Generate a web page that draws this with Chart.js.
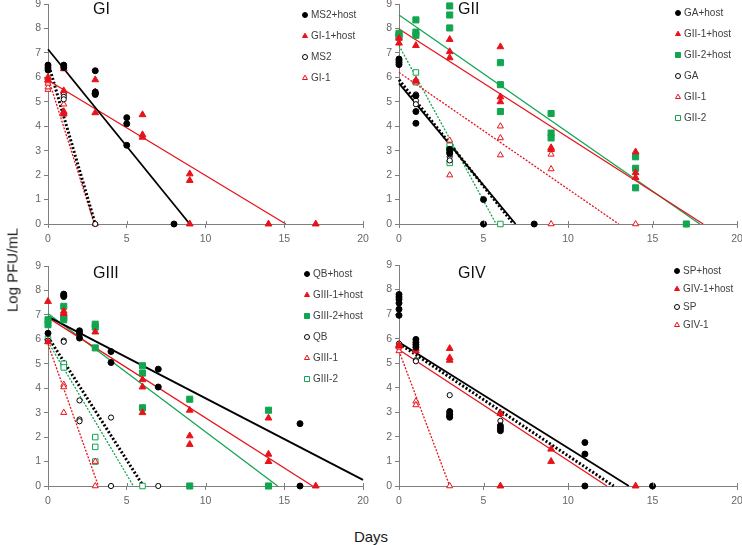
<!doctype html>
<html lang="en">
<head>
<meta charset="utf-8" />
<title>Log PFU/mL vs Days</title>
<script src="https://cdn.jsdelivr.net/npm/chart.js@4.4.1/dist/chart.umd.min.js"></script>
<style>
  body { margin: 0; background: #fff; width: 742px; height: 545px; position: relative; overflow: hidden;
         font-family: "Liberation Sans", Arial, sans-serif; }
  canvas { position: absolute; }
  .ylabel { position: absolute; left: 12px; top: 270px; transform: translate(-50%, -50%) rotate(-90deg);
            font-size: 15px; white-space: nowrap; color: #1a1a1a; }
  .xlabel { position: absolute; left: 371px; top: 536px; transform: translate(-50%, -50%);
            font-size: 15px; color: #1a1a1a; }
</style>
</head>
<body>
<canvas id="p1" width="380" height="260" style="left:0;top:-10px"></canvas>
<canvas id="p2" width="382" height="260" style="left:370px;top:-10px"></canvas>
<canvas id="p3" width="380" height="272" style="left:0;top:240px"></canvas>
<canvas id="p4" width="382" height="272" style="left:370px;top:240px"></canvas>
<div class="ylabel">Log PFU/mL</div>
<div class="xlabel">Days</div>
<script>
  // axis ticks
  const xTicks = [0, 5, 10, 15, 20];
  const yTicks = [0, 1, 2, 3, 4, 5, 6, 7, 8, 9];

  // ---- GI : [day, log PFU/mL] ----
  const ms2Host = [[0,6.3],[0,6.4],[0,6.5],[1,6.4],[1,6.5],[3,6.27],[3,5.4],[3,5.3],[3,5.35],[5,4.35],[5,4.1],[5,3.22],[8,0]];
  const gi1Host = [[0,6.0],[0,5.9],[1,6.35],[1,5.45],[1,4.6],[1,4.5],[3,5.9],[3,5.4],[3,4.55],[6,4.47],[6,3.65],[6,3.55],[9,2.05],[9,1.78],[9,0],[14,0],[17,0]];
  const ms2 = [[0,6.5],[0,6.35],[1,5.3],[1,5.2],[1,5.1],[3,0]];
  const gi1 = [[0,5.5],[0,5.6],[0,5.75],[0,5.85],[1,5.4],[1,4.9],[1,4.55],[3,0]];
  // fitted lines: [value at day 0, day where line reaches 0]
  const ms2HostFit = [7.15, 9.0];
  const gi1HostFit = [5.88, 15.1];
  const ms2Fit = [6.6, 3.0];
  const gi1Fit = [6.0, 2.95];

  // ---- GII ----
  const gaHost = [[0,6.75],[0,6.68],[0,6.6],[0,6.52],[1,5.25],[1,4.6],[1,4.12],[3,3.05],[3,2.9],[5,1.0],[5,0],[8,0]];
  const gii1Host = [[0,7.4],[0,7.6],[1,7.3],[1,5.85],[3,7.55],[3,7.05],[3,6.8],[6,7.25],[6,5.2],[6,5.0],[9,3.12],[9,3.05],[14,2.95],[14,2.1],[14,1.9]];
  const gii2Host = [[0,7.8],[0,7.7],[1,8.35],[1,7.85],[1,7.72],[3,8.92],[3,8.55],[3,8.02],[3,3.05],[6,6.6],[6,5.7],[6,4.6],[9,4.52],[9,3.72],[9,3.52],[14,2.75],[14,2.28],[14,1.48],[17,0]];
  const ga = [[0,6.6],[1,5.3],[1,5.05],[1,4.9],[3,2.75],[3,2.6],[3,2.85]];
  const gii1 = [[0,7.6],[1,5.9],[1,5.8],[3,3.42],[3,2.0],[6,4.0],[6,3.52],[6,2.82],[9,2.85],[9,2.25],[9,0],[14,0]];
  const gii2 = [[0,7.75],[0,7.65],[1,6.2],[1,5.8],[3,3.2],[3,2.5],[6,0]];
  const gaHostFit = [5.75, 6.9];
  const gii1HostFit = [7.98, 18.0];
  const gii2HostFit = [8.55, 17.8];
  const gaFit = [5.9, 6.78];
  const gii1Fit = [6.2, 13.0];
  const gii2Fit = [7.3, 5.75];

  // ---- GIII ----
  const qbHost = [[0,6.25],[1,7.85],[1,7.8],[1,7.75],[2,6.35],[2,6.25],[2,6.05],[4,5.5],[4,5.05],[7,4.78],[7,4.05],[16,2.55],[16,0]];
  const giii1Host = [[0,7.55],[0,5.9],[1,7.15],[1,7.05],[3,6.3],[6,4.35],[6,4.05],[6,3.0],[9,3.1],[9,2.05],[9,1.7],[14,2.78],[14,1.3],[14,1.0],[17,0]];
  const giii2Host = [[0,6.8],[0,6.6],[1,7.35],[1,6.9],[1,6.8],[3,6.62],[3,6.5],[3,5.65],[6,4.92],[6,4.62],[6,3.2],[9,3.55],[9,0],[14,3.1],[14,0]];
  const qb = [[0,5.95],[1,5.95],[1,5.9],[2,3.5],[2,2.72],[2,2.65],[4,2.8],[4,0],[7,0]];
  const giii1 = [[0,5.9],[1,4.15],[1,4.05],[1,3.0],[3,1.0],[3,0]];
  const giii2 = [[0,6.0],[1,5.0],[1,4.85],[3,2.0],[3,1.6],[3,1.0],[6,0]];
  const qbHostFit = [6.93, 20.75];
  const giii1HostFit = [6.89, 16.8];
  const giii2HostFit = [7.06, 14.58];
  const qbFit = [6.1, 6.05];
  const giii1Fit = [5.8, 3.2];
  const giii2Fit = [5.9, 5.42];

  // ---- GIV ----
  const spHost = [[0,7.8],[0,7.7],[0,7.6],[0,7.45],[0,7.2],[0,6.95],[1,5.97],[1,5.85],[1,5.75],[1,5.65],[3,3.02],[3,2.92],[3,2.85],[3,2.8],[6,2.45],[6,2.35],[6,2.25],[11,1.77],[11,1.3],[11,0],[15,0]];
  const giv1Host = [[0,5.75],[0,5.7],[1,5.6],[1,5.5],[3,5.6],[3,5.22],[3,5.12],[6,2.95],[6,0],[9,1.5],[9,1.0],[14,0]];
  const sp = [[0,5.8],[1,5.12],[1,5.08],[3,3.7],[3,3.05],[6,2.65],[6,2.95]];
  const giv1 = [[0,5.5],[0,5.65],[1,3.45],[1,3.3],[3,0]];
  const spHostFit = [5.85, 13.6];
  const giv1HostFit = [5.55, 12.3];
  const spFit = [5.8, 12.7];
  const giv1Fit = [5.5, 3.0];

  const BLACK = '#000000', RED = '#e8121b', GREEN = '#12a550';
  const FONT = '"Liberation Sans", Arial, sans-serif';
  const AXIS = '#7f7f7f';

  function fitLine(fit) {
    const xEnd = Math.min(fit[1], 20);
    return [{x: 0, y: fit[0]}, {x: xEnd, y: fit[0] * (1 - xEnd / fit[1])}];
  }

  function drawMarker(ctx, s, x, y, r) {
    ctx.beginPath();
    if (s.shape === 'circle') ctx.arc(x, y, r, 0, 2 * Math.PI);
    else if (s.shape === 'triangle') {
      ctx.moveTo(x, y - r * 1.15); ctx.lineTo(x + r, y + r * 0.6); ctx.lineTo(x - r, y + r * 0.6); ctx.closePath();
    } else ctx.rect(x - r, y - r, 2 * r, 2 * r);
    ctx.fillStyle = s.filled ? s.color : '#fff';
    ctx.fill();
    ctx.strokeStyle = s.color; ctx.lineWidth = 1; ctx.stroke();
  }

  const radius = {circle: 3.0, triangle: 3.9, rect: 4.3};

  // x axis ticks in the source cross the axis line, so draw the upper half by hand
  const crossTicks = {
    id: 'crossTicks',
    afterDraw(chart) {
      const xs = chart.scales.x, ctx = chart.ctx, bottom = chart.chartArea.bottom;
      ctx.save();
      ctx.strokeStyle = AXIS; ctx.lineWidth = 1;
      xTicks.forEach(v => {
        const px = Math.round(xs.getPixelForValue(v)) + 0.5;
        ctx.beginPath(); ctx.moveTo(px, bottom - 3); ctx.lineTo(px, bottom); ctx.stroke();
      });
      ctx.restore();
    }
  };

  function makePanel(id, p) {
    const datasets = [];
    p.series.forEach(s => {
      datasets.push({
        data: s.pts.map(d => ({x: d[0], y: d[1]})),
        pointStyle: s.shape,
        pointRadius: s.filled ? radius[s.shape] : radius[s.shape] - 0.4,
        pointBackgroundColor: s.filled ? s.color : '#fff',
        pointBorderColor: s.color,
        pointBorderWidth: 1,
        showLine: false,
        clip: false
      });
    });
    p.series.forEach(s => {
      const black = s.color === BLACK;
      datasets.push({
        data: fitLine(s.fit),
        showLine: true,
        pointRadius: 0,
        borderColor: s.color,
        borderWidth: s.filled ? (black ? 1.8 : 1.3) : (black ? 3 : 1.3),
        borderDash: s.filled ? [] : (black ? [2, 2] : [2, 1.5]),
        clip: false
      });
    });

    const decor = {
      id: 'decor',
      afterDraw(chart) {
        const ctx = chart.ctx;
        ctx.save();
        ctx.fillStyle = '#111';
        ctx.font = '16px ' + FONT;
        ctx.textBaseline = 'alphabetic';
        ctx.fillText(p.title, p.titleX, p.titleY);
        ctx.font = '10px ' + FONT;
        ctx.textBaseline = 'middle';
        p.series.forEach((s, i) => {
          const y = p.legY + i * p.legGap;
          drawMarker(ctx, s, p.legX, y, 2.5);
          ctx.fillStyle = '#404040';
          ctx.fillText(s.label, p.legX + 6, y + 0.5);
        });
        ctx.restore();
      }
    };

    const axisGrid = {drawOnChartArea: false, drawTicks: true, tickLength: 4, color: AXIS};
    const tickFont = {size: 10.5, family: FONT};

    new Chart(document.getElementById(id), {
      type: 'scatter',
      data: {datasets},
      options: {
        responsive: false,
        animation: false,
        events: [],
        layout: {padding: {top: p.top, right: p.right, left: 0, bottom: 0}},
        plugins: {legend: {display: false}, tooltip: {enabled: false}},
        scales: {
          x: {
            type: 'linear', min: 0, max: 20,
            afterBuildTicks: s => { s.ticks = xTicks.map(v => ({value: v})); },
            afterFit: s => { s.height = 26; },
            ticks: {color: '#666666', font: tickFont, padding: 5, maxRotation: 0},
            grid: axisGrid,
            border: {color: AXIS, width: 1}
          },
          y: {
            type: 'linear', min: 0, max: 9,
            afterBuildTicks: s => { s.ticks = yTicks.map(v => ({value: v})); },
            afterFit: s => { s.width = p.left; },
            ticks: {color: '#666666', font: tickFont, padding: 3},
            grid: axisGrid,
            border: {color: AXIS, width: 1}
          }
        }
      },
      plugins: [crossTicks, decor]
    });
  }

  // canvases are 10px wider than the panel so the "20" label has room;
  // right padding sets where x = 20 falls
  makePanel('p1', {
    title: 'GI', titleX: 93, titleY: 24, left: 48, right: 17, top: 14,
    legX: 305, legY: 25, legGap: 21,
    series: [
      {label: 'MS2+host', pts: ms2Host, fit: ms2HostFit, color: BLACK, shape: 'circle', filled: true},
      {label: 'GI-1+host', pts: gi1Host, fit: gi1HostFit, color: RED, shape: 'triangle', filled: true},
      {label: 'MS2', pts: ms2, fit: ms2Fit, color: BLACK, shape: 'circle', filled: false},
      {label: 'GI-1', pts: gi1, fit: gi1Fit, color: RED, shape: 'triangle', filled: false}
    ]
  });

  makePanel('p2', {
    title: 'GII', titleX: 88, titleY: 24, left: 29, right: 15, top: 14,
    legX: 308, legY: 23, legGap: 21,
    series: [
      {label: 'GA+host', pts: gaHost, fit: gaHostFit, color: BLACK, shape: 'circle', filled: true},
      {label: 'GII-1+host', pts: gii1Host, fit: gii1HostFit, color: RED, shape: 'triangle', filled: true},
      {label: 'GII-2+host', pts: gii2Host, fit: gii2HostFit, color: GREEN, shape: 'rect', filled: true},
      {label: 'GA', pts: ga, fit: gaFit, color: BLACK, shape: 'circle', filled: false},
      {label: 'GII-1', pts: gii1, fit: gii1Fit, color: RED, shape: 'triangle', filled: false},
      {label: 'GII-2', pts: gii2, fit: gii2Fit, color: GREEN, shape: 'rect', filled: false}
    ]
  });

  makePanel('p3', {
    title: 'GIII', titleX: 93, titleY: 38, left: 48, right: 17, top: 26,
    legX: 307, legY: 34, legGap: 21,
    series: [
      {label: 'QB+host', pts: qbHost, fit: qbHostFit, color: BLACK, shape: 'circle', filled: true},
      {label: 'GIII-1+host', pts: giii1Host, fit: giii1HostFit, color: RED, shape: 'triangle', filled: true},
      {label: 'GIII-2+host', pts: giii2Host, fit: giii2HostFit, color: GREEN, shape: 'rect', filled: true},
      {label: 'QB', pts: qb, fit: qbFit, color: BLACK, shape: 'circle', filled: false},
      {label: 'GIII-1', pts: giii1, fit: giii1Fit, color: RED, shape: 'triangle', filled: false},
      {label: 'GIII-2', pts: giii2, fit: giii2Fit, color: GREEN, shape: 'rect', filled: false}
    ]
  });

  makePanel('p4', {
    title: 'GIV', titleX: 88, titleY: 38, left: 29, right: 15, top: 25,
    legX: 307, legY: 31, legGap: 18,
    series: [
      {label: 'SP+host', pts: spHost, fit: spHostFit, color: BLACK, shape: 'circle', filled: true},
      {label: 'GIV-1+host', pts: giv1Host, fit: giv1HostFit, color: RED, shape: 'triangle', filled: true},
      {label: 'SP', pts: sp, fit: spFit, color: BLACK, shape: 'circle', filled: false},
      {label: 'GIV-1', pts: giv1, fit: giv1Fit, color: RED, shape: 'triangle', filled: false}
    ]
  });
</script>
</body>
</html>
